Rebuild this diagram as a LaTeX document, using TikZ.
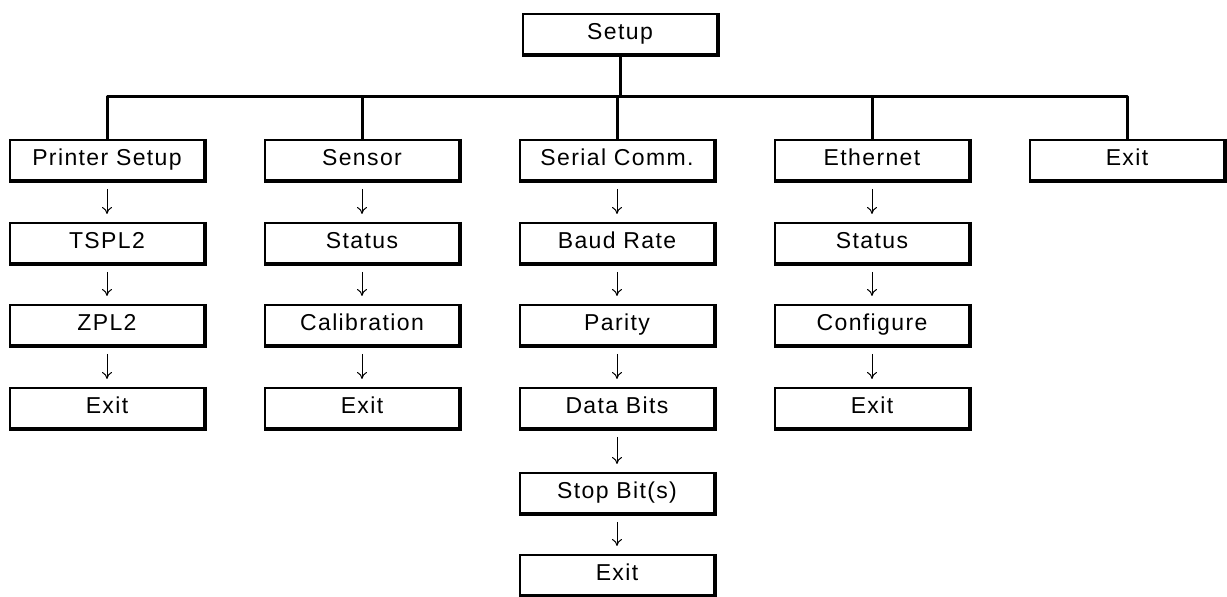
\documentclass[tikz,border=0pt]{standalone}
\usepackage{fontspec}
\setmainfont{Liberation Sans}[LetterSpace=6]
\usetikzlibrary{arrows.meta,calc}
\tikzset{
  menu/.style={draw,line width=1pt,minimum width=97pt,minimum height=20pt,inner sep=0pt,
    text height=8.4pt,text depth=2.4pt,font=\fontsize{11.5}{13}\selectfont},
  tree/.style={line width=1.5pt,line join=round},
  nxt/.style={line width=0.5pt,-{To[length=3.5pt,width=5pt]},shorten <=4pt,shorten >=4pt}
}
\newcommand{\edgeshade}[1]{\draw[line width=2pt] (#1.north east)--(#1.south east)--(#1.south west);}

\begin{document}
\begin{tikzpicture}[x=0.5pt,y=-0.5pt]
  \useasboundingbox (0,0) rectangle (1227,597);
  \node[menu] (setup) at (620,34) {Setup};
  % second row
  \node[menu] (ps) at (107,160) {Printer Setup};
  \node[menu] (sen) at (362,160) {Sensor};
  \node[menu] (ser) at (617,160) {Serial Comm.};
  \node[menu] (eth) at (872,160) {Ethernet};
  \node[menu] (ext) at (1127,160) {Exit};
  % printer setup
  \node[menu] (ps1) at (107,243) {TSPL2};
  \node[menu] (ps2) at (107,325) {ZPL2};
  \node[menu] (ps3) at (107,408) {Exit};
  % sensor
  \node[menu] (sen1) at (362,243) {Status};
  \node[menu] (sen2) at (362,325) {Calibration};
  \node[menu] (sen3) at (362,408) {Exit};
  % serial
  \node[menu] (ser1) at (617,243) {Baud Rate};
  \node[menu] (ser2) at (617,325) {Parity};
  \node[menu] (ser3) at (617,408) {Data Bits};
  \node[menu] (ser4) at (617,493) {Stop Bit(s)};
  \node[menu] (ser5) at (617,575) {Exit};
  % ethernet
  \node[menu] (eth1) at (872,243) {Status};
  \node[menu] (eth2) at (872,325) {Configure};
  \node[menu] (eth3) at (872,408) {Exit};
  % thick right and bottom edges
  \foreach \n in {setup,ps,sen,ser,eth,ext,ps1,ps2,ps3,sen1,sen2,sen3,
    ser1,ser2,ser3,ser4,ser5,eth1,eth2,eth3}{\edgeshade{\n}}
  % tree lines
  \coordinate (bar) at (0,97);
  \draw[tree] (setup.south) -- (setup.south |- bar);
  \draw[tree] (ps.north) -- (ps.north |- bar) -- (ext.north |- bar) -- (ext.north);
  \draw[tree] (sen.north) -- (sen.north |- bar);
  \draw[tree] (ser.north) -- (ser.north |- bar);
  \draw[tree] (eth.north) -- (eth.north |- bar);
  % arrows
  \draw[nxt] (ps) -- (ps1);
  \draw[nxt] (ps1) -- (ps2);
  \draw[nxt] (ps2) -- (ps3);
  \draw[nxt] (sen) -- (sen1);
  \draw[nxt] (sen1) -- (sen2);
  \draw[nxt] (sen2) -- (sen3);
  \draw[nxt] (ser) -- (ser1);
  \draw[nxt] (ser1) -- (ser2);
  \draw[nxt] (ser2) -- (ser3);
  \draw[nxt] (ser3) -- (ser4);
  \draw[nxt] (ser4) -- (ser5);
  \draw[nxt] (eth) -- (eth1);
  \draw[nxt] (eth1) -- (eth2);
  \draw[nxt] (eth2) -- (eth3);
\end{tikzpicture}
\end{document}
